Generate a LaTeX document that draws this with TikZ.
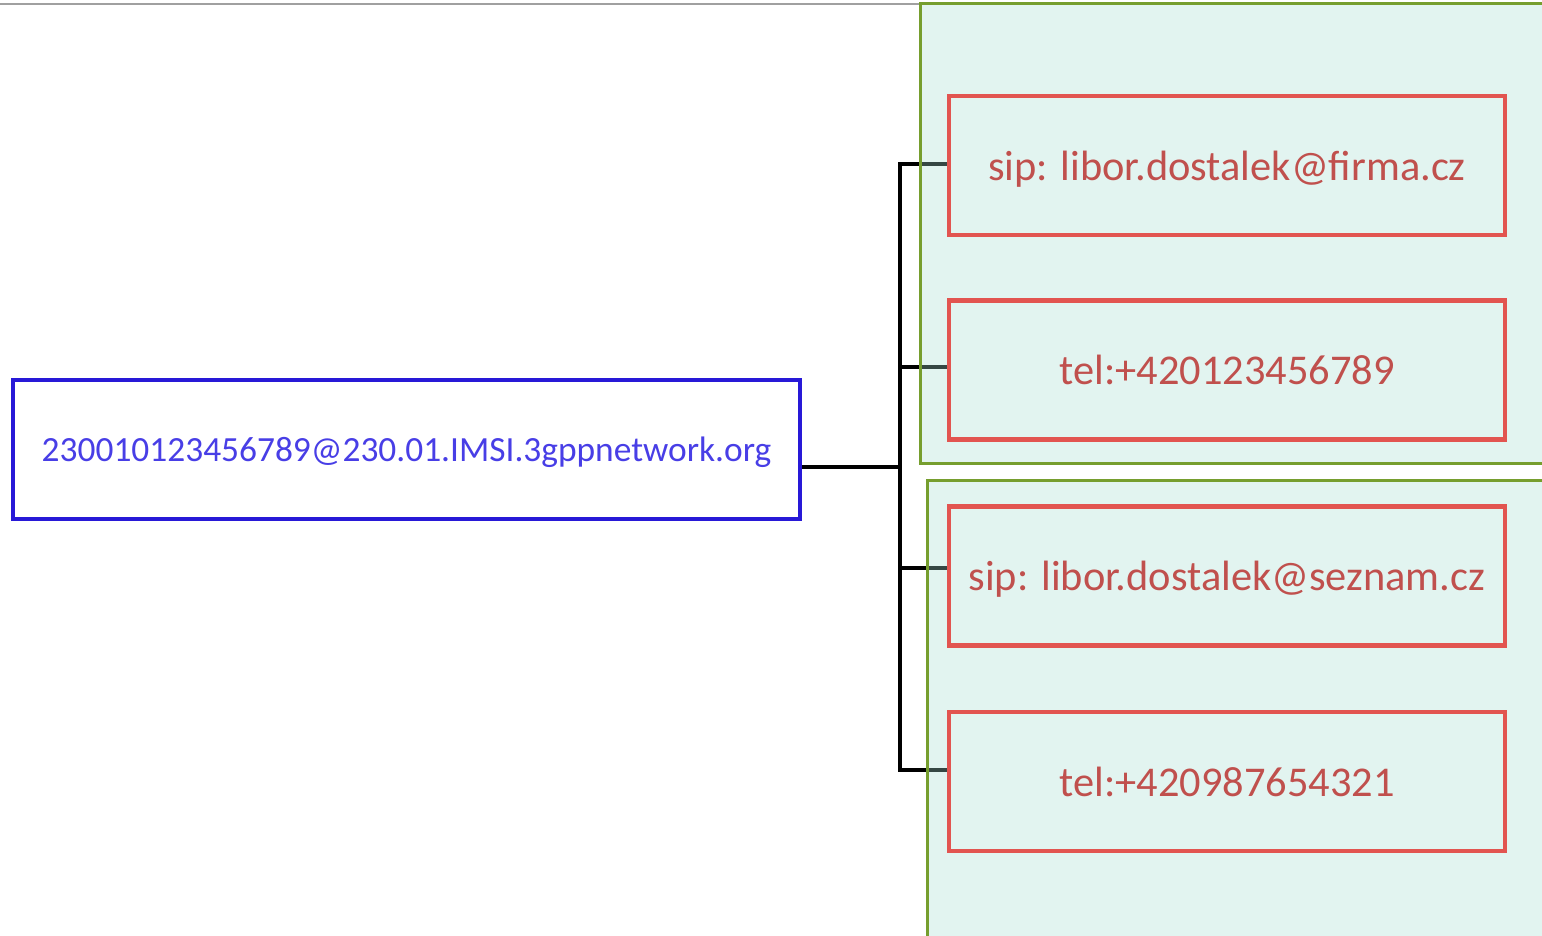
\documentclass[tikz,border=0pt]{standalone}
\usepackage{fontspec}
\setmainfont{Carlito}
\usetikzlibrary{calc}
\definecolor{idblue}{RGB}{40,25,215}
\definecolor{idtext}{RGB}{72,62,230}
\definecolor{uriedge}{RGB}{226,84,80}
\definecolor{uritext}{RGB}{192,80,77}
\definecolor{paneledge}{RGB}{118,158,46}
\definecolor{panelfill}{RGB}{165,221,209}
\definecolor{rulegrey}{RGB}{160,160,160}
\pgfdeclarelayer{wires}
\pgfdeclarelayer{panels}
\pgfsetlayers{wires,panels,main}
\tikzset{
  idbox/.style={draw=idblue, line width=2.2pt, minimum width=393.5pt, minimum height=69.5pt,
    inner sep=0pt, text depth=0pt, text=idtext, font=\fontsize{17.7}{20}\selectfont},
  uribox/.style={draw=uriedge, line width=2.2pt, minimum width=278pt, minimum height=69.5pt,
    inner sep=0pt, text depth=0pt, text=uritext, font=\fontsize{21.2}{24}\selectfont},
  panel/.style={draw=paneledge, line width=1.5pt, fill=panelfill, fill opacity=0.32},
  wire/.style={draw=black, line width=2.4pt, line join=miter}
}
\begin{document}
\begin{tikzpicture}[x=0.5pt, y=-0.5pt]
  \useasboundingbox (0,0) rectangle (1542,936);

  % identity and its public user identities
  \node[idbox] (impi) at (406.5,449.5) {230010123456789@230.01.IMSI.3gppnetwork.org};
  \node[uribox] (u1) at (1227,165.5) {sip: libor.dostalek@firma.cz};
  \node[uribox] (u2) at (1227,370) {tel:+420123456789};
  \node[uribox] (u3) at (1227,576) {sip: libor.dostalek@seznam.cz};
  \node[uribox] (u4) at (1227,781.5) {tel:+420987654321};

  % tree junctions
  \coordinate (hub) at (900,467);
  \coordinate (t1) at (900,164);
  \coordinate (t2) at (900,367);
  \coordinate (t3) at (900,568);
  \coordinate (t4) at (900,770);

  \begin{pgfonlayer}{wires}
    \draw[wire] (impi.east |- hub) -- (hub);
    \draw[wire] (u1.west |- t1) -- (t1) -- (t4) -- (u4.west |- t4);
    \draw[wire] (t2) -- (u2.west |- t2);
    \draw[wire] (t3) -- (u3.west |- t3);
  \end{pgfonlayer}

  \begin{pgfonlayer}{panels}
    \draw[rulegrey, line width=0.8pt] (0,4) -- (920,4);
    \path[panel] (920,4) rectangle (1552,463);
    \path[panel] (927,480) rectangle (1552,946);
  \end{pgfonlayer}
\end{tikzpicture}
\end{document}
